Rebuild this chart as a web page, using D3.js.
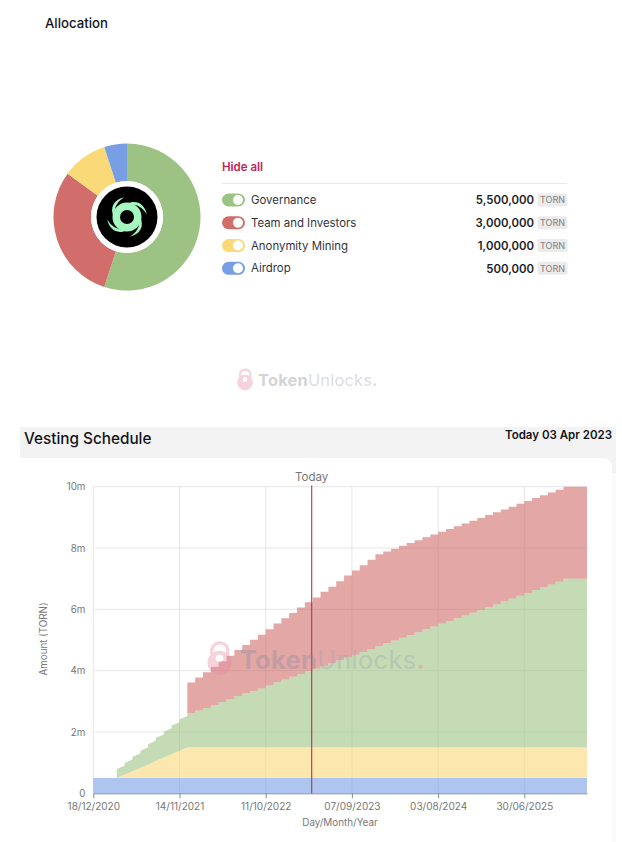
<!DOCTYPE html>
<html>
<head>
<meta charset="utf-8">
<script src="https://cdn.jsdelivr.net/npm/d3@7"></script>
<style>
html,body{margin:0;padding:0;background:#fff}
svg{display:block}
text{font-family:Inter,"Noto Sans",sans-serif}
</style>
</head>
<body>
<svg id="c" width="622" height="842"></svg>
<script>
// ---------- data ----------
const categories = ["Governance","Team and Investors","Anonymity Mining","Airdrop"];
const totals = [5500000,3000000,1000000,500000];
const colors = ["#9DC384","#D16D6A","#FAD978","#789EE4"];
const tickLabels = ["18/12/2020","14/11/2021","11/10/2022","07/09/2023","03/08/2024","30/06/2025"];
const tickSteps = [0,11,22,33,44,55];
const yTicks = [0,2,4,6,8,10];
const todayStep = 27.87;
const steps = d3.range(64);
const airdrop = [.5,.5,.5,.5,.5,.5,.5,.5,.5,.5,.5,.5,.5,.5,.5,.5,.5,.5,.5,.5,.5,.5,.5,.5,.5,.5,.5,.5,.5,.5,.5,.5,.5,.5,.5,.5,.5,.5,.5,.5,.5,.5,.5,.5,.5,.5,.5,.5,.5,.5,.5,.5,.5,.5,.5,.5,.5,.5,.5,.5,.5,.5,.5,.5];
const anonymity = [0,0,0,0,.11,.22,.33,.44,.56,.67,.78,.89,1,1,1,1,1,1,1,1,1,1,1,1,1,1,1,1,1,1,1,1,1,1,1,1,1,1,1,1,1,1,1,1,1,1,1,1,1,1,1,1,1,1,1,1,1,1,1,1,1,1,1,1];
const governance = [0,0,0,.29,.38,.47,.56,.66,.75,.84,.93,1.02,1.11,1.2,1.28,1.38,1.48,1.57,1.67,1.76,1.84,1.92,2.02,2.12,2.21,2.3,2.39,2.48,2.56,2.65,2.74,2.84,2.93,3.02,3.11,3.2,3.3,3.39,3.48,3.57,3.66,3.75,3.85,3.94,4.03,4.12,4.21,4.3,4.39,4.48,4.58,4.67,4.76,4.85,4.94,5.03,5.13,5.22,5.31,5.4,5.5,5.5,5.5,5.5];
const team = [0,0,0,0,0,0,0,0,0,0,0,0,1,1.08,1.17,1.25,1.33,1.42,1.5,1.58,1.67,1.75,1.83,1.92,2,2.08,2.17,2.25,2.33,2.42,2.5,2.58,2.67,2.75,2.83,2.92,3,3,3,3,3,3,3,3,3,3,3,3,3,3,3,3,3,3,3,3,3,3,3,3,3,3,3,3];

// ---------- setup ----------
const svg = d3.select("#c");
const num = d3.format(",");

svg.append("text").attr("x",45).attr("y",28).attr("font-size",13.2).attr("font-weight",500).attr("fill","#14141c").text("Allocation");

// ---------- donut ----------
const cx=127, cy=217;
const pie = d3.pie().sort(null)(totals);
const arc = d3.arc().innerRadius(36).outerRadius(73.5);
const donut = svg.append("g").attr("transform",`translate(${cx},${cy})`);
donut.selectAll("path.s").data(pie).join("path").attr("class","s").attr("d",arc).attr("fill",(d,i)=>colors[i]);
donut.append("circle").attr("r",36).attr("fill","#fff");
donut.append("circle").attr("r",30.5).attr("fill","#000");
// tornado logo
const logo = donut.append("g");
logo.append("circle").attr("r",14.5).attr("fill","#A6F7C0");
const arm = "M-2,-13 C6,-19 15,-16 19,-6 C14,-12 8,-14 2,-13 Z";
[0,90,180,270].forEach(a=>logo.append("path").attr("d",arm).attr("transform",`rotate(${a+10})`).attr("fill","#A6F7C0"));
logo.append("circle").attr("r",7).attr("fill","#000");

// ---------- legend ----------
const lg = svg.append("g");
lg.append("text").attr("x",222).attr("y",171).attr("font-size",11.5).attr("font-weight",600).attr("fill","#C2255C").text("Hide all");
lg.append("line").attr("x1",222).attr("x2",567).attr("y1",183.5).attr("y2",183.5).attr("stroke","#e8e8e8");
const rowY = d3.scalePoint().domain(categories).range([200,268.3]);
const rows = lg.selectAll("g.r").data(categories).join("g").attr("class","r").attr("transform",d=>`translate(0,${rowY(d)})`);
rows.append("rect").attr("x",222).attr("y",-6.5).attr("width",23).attr("height",13).attr("rx",6.5).attr("fill",(d,i)=>colors[i]);
rows.append("circle").attr("cx",238).attr("r",5).attr("fill","#fff");
rows.append("text").attr("x",251).attr("y",4).attr("font-size",11.4).attr("fill","#33333b").text(d=>d);
rows.append("text").attr("x",534).attr("y",4.2).attr("text-anchor","end").attr("font-size",11.4).attr("font-weight",600).attr("fill","#1c1c24").text((d,i)=>num(totals[i]));
rows.append("rect").attr("x",537.5).attr("y",-6.5).attr("width",30).attr("height",13).attr("rx",2.5).attr("fill","#ebebeb");
rows.append("text").attr("x",552.5).attr("y",3.4).attr("text-anchor","middle").attr("font-size",9).attr("fill","#808080").text("TORN");

// ---------- watermark ----------
function watermark(x,y,s,op){
  const g = svg.append("g").attr("transform",`translate(${x},${y}) scale(${s})`).attr("opacity",op);
  g.append("path").attr("d","M-6,-3 V-8 A6.5,6.5 0 0 1 6.5,-8 V-3").attr("fill","none").attr("stroke","#E58BA6").attr("stroke-width",2.6);
  g.append("circle").attr("cy",3).attr("r",9.5).attr("fill","#E58BA6");
  g.append("circle").attr("cy",-0.5).attr("r",3).attr("fill","#fff");
  const t = g.append("text").attr("x",16).attr("y",7.5).attr("font-size",20).attr("letter-spacing",0.25);
  t.append("tspan").attr("font-weight",700).attr("fill","#8f8f99").text("Token");
  t.append("tspan").attr("fill","#a5a5ae").text("Unlocks");
  t.append("tspan").attr("font-weight",700).attr("fill","#E58BA6").text(".");
}

// ---------- vesting panel ----------
svg.append("rect").attr("x",20).attr("y",427).attr("width",596).attr("height",46).attr("fill","#f3f3f3");
svg.append("path").attr("d","M20,458 H603 A9,9 0 0 1 612,467 V842 H20 Z").attr("fill","#fff");
svg.append("rect").attr("x",612).attr("y",473).attr("width",4).attr("height",369).attr("fill","#fafafa");
svg.append("text").attr("x",24).attr("y",444).attr("font-size",15.3).attr("font-weight",500).attr("fill","#14141c").text("Vesting Schedule");
svg.append("text").attr("x",612).attr("y",439).attr("text-anchor","end").attr("font-size",11.5).attr("font-weight",600).attr("fill","#14141c").text("Today 03 Apr 2023");

// ---------- stacked chart ----------
const x = d3.scaleLinear().domain([0,63]).range([93.3,587]);
const y = d3.scaleLinear().domain([0,10]).range([793.3,486.7]);
const chart = svg.append("g");

// grid
chart.append("g").selectAll("line").data(yTicks.slice(1)).join("line")
  .attr("x1",x(0)).attr("x2",x(63)).attr("y1",d=>y(d)).attr("y2",d=>y(d)).attr("stroke","#e6e6e6");
chart.append("g").selectAll("line").data(tickSteps).join("line")
  .attr("x1",d=>x(d)).attr("x2",d=>x(d)).attr("y1",y(0)).attr("y2",y(10)).attr("stroke","#e6e6e6");

// stacks
const top1 = steps.map(i=>airdrop[i]);
const top2 = steps.map(i=>top1[i]+anonymity[i]);
const top3 = steps.map(i=>top2[i]+governance[i]);
const top4 = steps.map(i=>top3[i]+team[i]);
const line = d3.line().x(p=>x(p[0])).y(p=>y(p[1]));
// Ramp: straight segments between monthly values
const ramp = (vals,from)=>steps.filter(i=>i>=from).map(i=>[i,vals[i]]);
// Tranche: holds its amount for the month, while riding on the stack below it
const tranche = (amount,base,from)=>steps.filter(i=>i>=from).flatMap(i=>
  i<63 ? [[i,base[i]+amount[i]],[i+1,base[i+1]+amount[i]]] : [[i,base[i]+amount[i]]]);
const area = (upper,lower)=>line(upper)+"L"+line(lower.slice().reverse()).slice(1)+"Z";
const fo = 0.6;
chart.append("path").attr("d",area(ramp(top1,0),ramp(top1,0).map(p=>[p[0],0]))).attr("fill",colors[3]).attr("fill-opacity",fo);
chart.append("path").attr("d",area(ramp(top2,3),ramp(top1,3))).attr("fill",colors[2]).attr("fill-opacity",fo);
chart.append("path").attr("d",area(tranche(governance,top2,3),ramp(top2,3))).attr("fill",colors[0]).attr("fill-opacity",fo);
const zero = steps.map(()=>0);
chart.append("path").attr("d",area(tranche(top4,zero,12),tranche(top3,zero,12))).attr("fill",colors[1]).attr("fill-opacity",fo);

// axes
const xAxis = d3.axisBottom(x).tickValues(tickSteps).tickFormat((d,i)=>tickLabels[i]).tickSize(5).tickSizeOuter(0);
const gx = chart.append("g").attr("transform",`translate(0,${y(0)})`).call(xAxis);
gx.select(".domain").attr("stroke","#8a8a8a");
gx.selectAll(".tick line").attr("stroke","#8a8a8a");
gx.selectAll("text").attr("font-size",10).attr("fill","#777").attr("dy","0.9em").attr("font-family","Inter");
const yAxis = d3.axisLeft(y).tickValues(yTicks).tickFormat(d=>d===0?"0":d+"m").tickSize(0);
const gy = chart.append("g").attr("transform",`translate(${x(0)},0)`).call(yAxis);
gy.select(".domain").remove();
gy.selectAll("text").attr("font-size",9.8).attr("fill","#777").attr("dx","-0.5em").attr("font-family","Inter");

// today marker
chart.append("line").attr("x1",x(todayStep)).attr("x2",x(todayStep)).attr("y1",485.5).attr("y2",y(0)).attr("stroke","#B5305A").attr("stroke-width",1.1);
chart.append("text").attr("x",x(todayStep)).attr("y",481).attr("text-anchor","middle").attr("font-size",11.5).attr("fill","#777").text("Today");

// titles
chart.append("text").attr("transform","translate(47,639) rotate(-90)").attr("text-anchor","middle").attr("font-size",9.8).attr("fill","#777").text("Amount (TORN)");
chart.append("text").attr("x",340).attr("y",826).attr("text-anchor","middle").attr("font-size",9.9).attr("fill","#777").text("Day/Month/Year");

watermark(245,380,.82,.38);
watermark(219.5,659,1.27,.38);
</script>
</body>
</html>
